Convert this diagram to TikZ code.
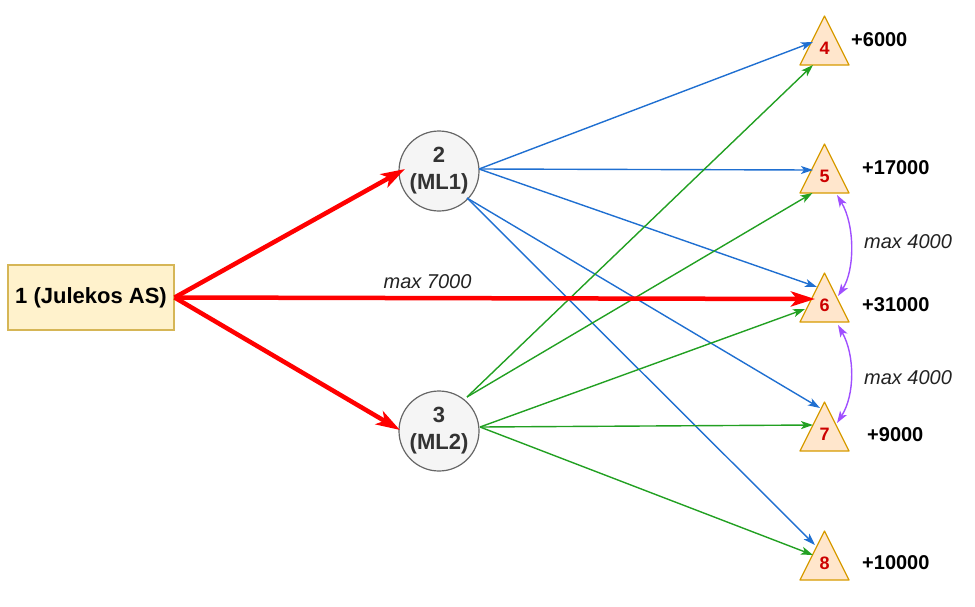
\documentclass[tikz,border=0pt]{standalone}
\usepackage{fontspec}
\setmainfont{Liberation Sans}
\usetikzlibrary{arrows.meta,calc}
\definecolor{eblue}{HTML}{1F6FD1}
\definecolor{egreen}{HTML}{22A022}
\definecolor{ered}{HTML}{FF0000}
\definecolor{epurple}{HTML}{9F4FFF}
\definecolor{boxfill}{HTML}{FFF2CC}
\definecolor{boxdraw}{HTML}{D6B656}
\definecolor{circfill}{HTML}{F5F5F5}
\definecolor{circdraw}{HTML}{666666}
\definecolor{circtext}{HTML}{333333}
\definecolor{trifill}{HTML}{FFE6CC}
\definecolor{tridraw}{HTML}{D79B00}
\definecolor{tritext}{HTML}{CC0000}
\definecolor{textdark}{HTML}{222222}
\begin{document}
\begin{tikzpicture}[x=1pt,y=-1pt,
  boxnode/.style={draw=boxdraw, fill=boxfill, line width=1.2pt, minimum width=166pt, minimum height=65pt, inner sep=0pt, font=\bfseries\fontsize{22}{26}\selectfont, text=black},
  circnode/.style={circle, draw=circdraw, fill=circfill, line width=1.2pt, minimum size=80pt, inner sep=0pt, align=center, font=\bfseries\fontsize{22}{27}\selectfont, text=circtext},
  trilabel/.style={font=\bfseries\fontsize{18}{20}\selectfont, text=tritext, inner sep=0pt},
  tri/.style={draw=tridraw, fill=trifill, line width=1.2pt, line join=round},
  val/.style={anchor=west, font=\bfseries\fontsize{20}{24}\selectfont, inner sep=0pt, text=black},
  maxlab/.style={font=\itshape\fontsize{20}{24}\selectfont, text=textdark, inner sep=0pt},
  blueedge/.style={draw=eblue, line width=1.4pt, -{Stealth[length=12pt,width=8pt,inset=3pt]}},
  greenedge/.style={draw=egreen, line width=1.4pt, -{Stealth[length=12pt,width=8pt,inset=3pt]}},
  rededge/.style={draw=ered, line width=4.5pt, -{Stealth[length=24pt,width=15pt,inset=6pt]}},
  purpleedge/.style={draw=epurple, line width=1.4pt, {Stealth[length=12pt,width=8pt,inset=3pt]}-{Stealth[length=12pt,width=8pt,inset=3pt]}}
]
\useasboundingbox (0,0) rectangle (975,606);

% source nodes
\node[boxnode] (n1) at (91,297.5) {1 (Julekos AS)};
\node[circnode] (n2) at (439,171) {2\\(ML1)};
\node[circnode] (n3) at (439,431) {3\\(ML2)};

% triangles (sinks)
\foreach \n/\b in {4/65,5/193,6/322,7/451,8/580}{
  \coordinate (c\n) at (824.5,\b-17);
  \draw[tri] ($(c\n)+(0,-32)$) -- ($(c\n)+(24.5,17)$) -- ($(c\n)+(-24.5,17)$) -- cycle;
}
\node[trilabel] (n4) at (c4) {4};
\node[trilabel] (n5) at (c5) {5};
\node[trilabel] (n6) at (c6) {6};
\node[trilabel] (n7) at (c7) {7};
\node[trilabel] (n8) at (c8) {8};

% values
\node[val] (v4) at (851,40) {+6000};
\node[val] (v5) at (862,168) {+17000};
\node[val] (v6) at (862,305) {+31000};
\node[val] (v7) at (867,435) {+9000};
\node[val] (v8) at (862,563) {+10000};

% blue edges from 2
\draw[blueedge] ($(n2.center)+(40,-2)$) -- ($(n4)+(-11.5,-6)$);
\draw[blueedge] ($(n2.center)+(40,-2)$) -- ($(n5)+(-11.5,-6)$);
\draw[blueedge] ($(n2.center)+(40,-2)$) -- ($(n6)+(-7.5,-18)$);
\draw[blueedge] ($(n2.center)+(28,27)$) -- ($(n7)+(-4.5,-26)$);
\draw[blueedge] ($(n2.center)+(28,27)$) -- ($(n8)+(-9.5,-18)$);

% green edges from 3
\draw[greenedge] ($(n3.center)+(28,-34)$) -- ($(n4)+(-11.5,17)$);
\draw[greenedge] ($(n3.center)+(28,-34)$) -- ($(n5)+(-12,17)$);
\draw[greenedge] ($(n3.center)+(41,-4)$) -- ($(n6)+(-19.5,4)$);
\draw[greenedge] ($(n3.center)+(41,-4)$) -- ($(n7)+(-11.5,-9)$);
\draw[greenedge] ($(n3.center)+(41,-4)$) -- ($(n8)+(-11.5,-8)$);

% red edges from 1
\draw[rededge] (n1.east) -- ($(n2.center)+(-34,-2)$);
\draw[rededge] (n1.east) -- ($(n3.center)+(-39,-1)$);
\draw[rededge] (n1.east) -- node[maxlab, pos=0.395, yshift=16pt] (m7) {max 7000} ($(n6)+(-9.5,-6)$);

% purple transfer edges
\draw[purpleedge] ($(n5)+(12.5,19)$) .. controls ($(n5)+(30.5,49)$) and ($(n6)+(30.5,-35)$) .. ($(n6)+(13.5,-9)$);
\draw[purpleedge] ($(n6)+(13.5,20)$) .. controls ($(n6)+(30.5,50)$) and ($(n7)+(30.5,-39)$) .. ($(n7)+(12.5,-11)$);
\node[maxlab] (m45) at (908,242) {max 4000};
\node[maxlab] (m67) at (908,378) {max 4000};
\end{tikzpicture}
\end{document}
